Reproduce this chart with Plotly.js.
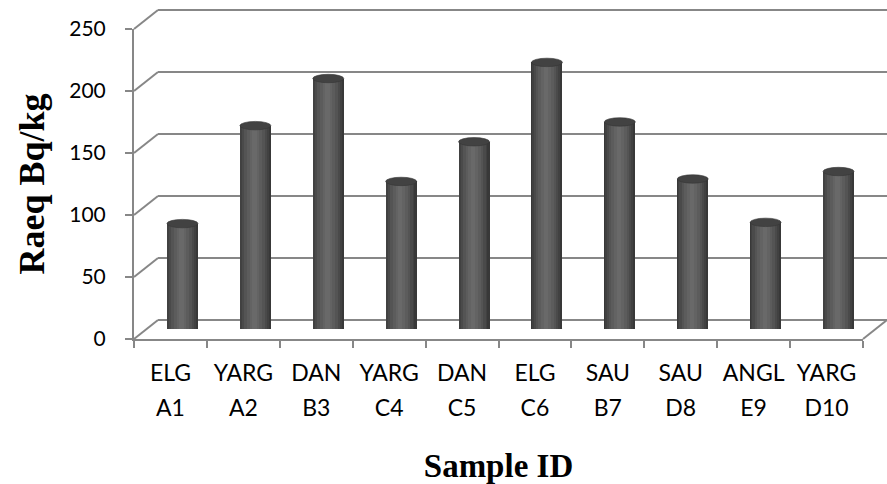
<!DOCTYPE html>
<html>
<head>
<meta charset="utf-8">
<script src="https://cdn.plot.ly/plotly-3.0.1.min.js"></script>
<style>
  html, body { margin: 0; padding: 0; background: #ffffff; }
  #chart { width: 887px; height: 484px; }
</style>
</head>
<body>
<div id="chart"></div>
<script>
// ---- Data ----
const categories = ['ELG A1','YARG A2','DAN B3','YARG C4','DAN C5','ELG C6','SAU B7','SAU D8','ANGL E9','YARG D10'];
const tickRow1 = ['ELG','YARG','DAN','YARG','DAN','ELG','SAU','SAU','ANGL','YARG'];
const tickRow2 = ['A1','A2','B3','C4','C5','C6','B7','D8','E9','D10'];
const raeq = [85, 164, 202, 119, 151, 215, 167, 121, 86, 127];
const yTicks = [0, 50, 100, 150, 200, 250];
const yTitle = 'Raeq Bq/kg';
const xTitle = 'Sample ID';

// ---- Layout geometry (pixel frame of the 3-D box) ----
const W = 887, H = 484;
const px = v => v / W;
const py = v => 1 - v / H;
const frontX = [px(134), px(863)];
const backX  = [px(158), px(887)];
const midX   = [px(146), px(875)];
const frontY = [py(339), py(29)];
const backY  = [py(320), py(10)];
const midY   = [py(329), py(19)];
const yMax = 250;

const gridColor = '#878787';
const lineW = 2;

// cylinder shading layers (outer -> inner)
const layerWidths = [0.425, 0.39, 0.34, 0.28, 0.21, 0.13, 0.06];
const layerColors = ['#383838', '#414141', '#4a4a4a', '#545454', '#5c5c5c', '#636363', '#696969'];

const traces = [];
layerWidths.forEach((w, k) => {
  traces.push({
    type: 'bar', x: categories, y: raeq, xaxis: 'x3', yaxis: 'y3',
    width: categories.map(() => w),
    offset: categories.map(() => -w / 2 - (k === 0 ? 0 : 0.012)),
    marker: { color: layerColors[k], line: { width: 0 } },
    hoverinfo: k === 0 ? 'x+y' : 'skip', showlegend: false
  });
});
// carriers for the front axis tick labels
traces.push({ type: 'scatter', mode: 'none', x: categories, y: raeq, xaxis: 'x', yaxis: 'y', hoverinfo: 'skip', showlegend: false });
traces.push({ type: 'scatter', mode: 'none', x: categories, y: raeq, xaxis: 'x4', yaxis: 'y', hoverinfo: 'skip', showlegend: false });
traces.push({ type: 'scatter', mode: 'none', x: categories, y: raeq, xaxis: 'x2', yaxis: 'y2', hoverinfo: 'skip', showlegend: false });

// ---- decorative box edges and cylinder caps ----
const shapes = [];
const fy = v => frontY[0] + v / yMax * (frontY[1] - frontY[0]);
const by = v => backY[0] + v / yMax * (backY[1] - backY[0]);
yTicks.forEach(v => {
  shapes.push({ type: 'line', xref: 'paper', yref: 'paper', x0: frontX[0], y0: fy(v), x1: backX[0], y1: by(v),
    line: { color: gridColor, width: lineW }, layer: 'below' });
});
shapes.push({ type: 'line', xref: 'paper', yref: 'paper', x0: frontX[1], y0: fy(0), x1: backX[1], y1: by(0),
  line: { color: gridColor, width: lineW }, layer: 'below' });
shapes.push({ type: 'line', xref: 'paper', yref: 'paper', x0: backX[0], y0: by(0), x1: backX[1], y1: by(0),
  line: { color: gridColor, width: lineW }, layer: 'below' });
shapes.push({ type: 'line', xref: 'paper', yref: 'paper', x0: backX[0], y0: by(yMax), x1: backX[1], y1: by(yMax),
  line: { color: gridColor, width: lineW }, layer: 'below' });

const capHalf = 3.4;
const hw = layerWidths[0] / 2;
raeq.forEach((v, i) => {
  shapes.push({ type: 'circle', xref: 'x3', yref: 'y3', x0: i - hw, x1: i + hw, y0: -capHalf - 0.6, y1: capHalf - 0.6,
    fillcolor: '#4a4a4a', line: { color: '#3a3a3a', width: 0.6 }, layer: 'below' });
  shapes.push({ type: 'circle', xref: 'x3', yref: 'y3', x0: i - hw, x1: i + hw, y0: v - capHalf, y1: v + capHalf,
    fillcolor: '#424242', line: { color: '#363636', width: 0.6 }, layer: 'above' });
});

const tickFont = { family: 'Lato, sans-serif', size: 23, color: '#000000' };

const layout = {
  width: W, height: H,
  margin: { l: 0, r: 0, t: 0, b: 0 },
  paper_bgcolor: '#ffffff', plot_bgcolor: 'rgba(0,0,0,0)',
  barmode: 'overlay', bargap: 0,
  showlegend: false,
  // front axes: labels, ticks, front edges
  xaxis: {
    domain: frontX, anchor: 'y', type: 'category', range: [-0.5, 9.5],
    tickmode: 'array', tickvals: categories, ticktext: tickRow1,
    tickson: 'boundaries', ticks: 'outside', ticklen: 7, tickwidth: lineW, tickcolor: gridColor,
    showline: true, linecolor: gridColor, linewidth: lineW,
    showgrid: false, zeroline: false, tickfont: tickFont, ticklabelstandoff: 12, fixedrange: true
  },
  xaxis4: {
    overlaying: 'x', anchor: 'y', side: 'bottom', type: 'category', range: [-0.5, 9.5],
    tickmode: 'array', tickvals: categories, ticktext: tickRow2,
    ticks: '', showline: false, showgrid: false, zeroline: false,
    tickfont: tickFont, ticklabelstandoff: 53,
    title: { text: xTitle, font: { family: 'Liberation Serif, Times New Roman, serif', size: 33, color: '#000000', weight: 'bold' }, standoff: 40 },
    fixedrange: true
  },
  yaxis: {
    domain: frontY, anchor: 'x', range: [0, yMax],
    tickmode: 'array', tickvals: yTicks,
    ticks: 'outside', ticklen: 7, tickwidth: lineW, tickcolor: gridColor,
    showline: true, linecolor: gridColor, linewidth: lineW,
    showgrid: false, zeroline: false, tickfont: { family: 'Lato, sans-serif', size: 21, color: '#000000' },
    ticklabelstandoff: 15,
    title: { text: yTitle, font: { family: 'Liberation Serif, Times New Roman, serif', size: 36, color: '#000000', weight: 'bold' }, standoff: 14 },
    fixedrange: true
  },
  // back wall grid
  xaxis2: { domain: backX, anchor: 'y2', type: 'category', range: [-0.5, 9.5], visible: false, fixedrange: true },
  yaxis2: {
    domain: backY, anchor: 'x2', range: [0, yMax], tickmode: 'array', tickvals: yTicks,
    showgrid: true, gridcolor: gridColor, gridwidth: lineW, zeroline: false,
    showticklabels: false, ticks: '', showline: false, fixedrange: true
  },
  // cylinders (middle depth plane)
  xaxis3: { domain: midX, anchor: 'y3', type: 'category', range: [-0.5, 9.5], visible: false, fixedrange: true },
  yaxis3: { domain: midY, anchor: 'x3', range: [0, yMax], visible: false, fixedrange: true },
  shapes: shapes
};

Plotly.newPlot('chart', traces, layout, { displayModeBar: false, staticPlot: true });
</script>
</body>
</html>
